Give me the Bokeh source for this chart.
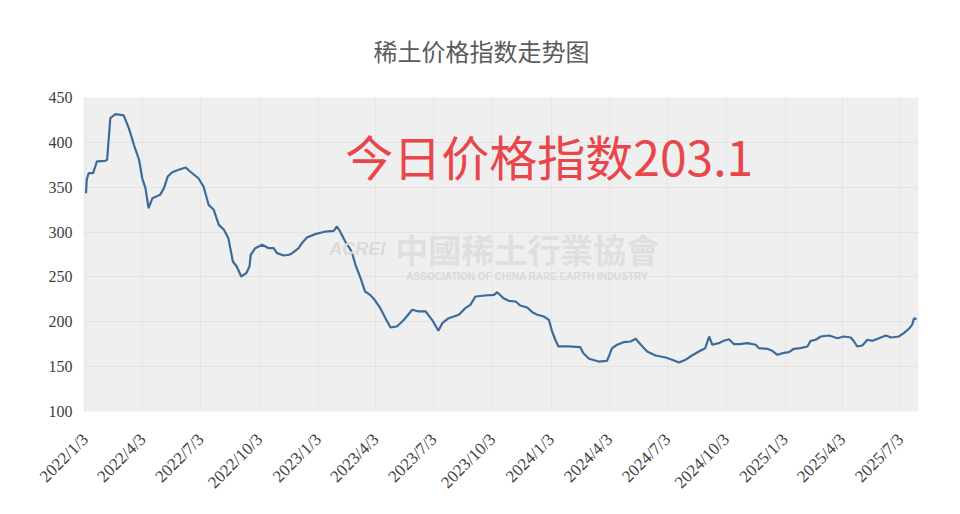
import pandas as pd
from bokeh.plotting import figure
from bokeh.models import Range1d, FixedTicker, Label
from bokeh.embed import file_html
from bokeh.resources import INLINE

# ---- data ----
dates = [
    "2022-01-04", "2022-01-05", "2022-01-08", "2022-01-15", "2022-01-21", "2022-02-03", "2022-02-06",
    "2022-02-11", "2022-02-19", "2022-03-04", "2022-03-12", "2022-03-20", "2022-03-28", "2022-04-02",
    "2022-04-07", "2022-04-12", "2022-04-18", "2022-04-30", "2022-05-06", "2022-05-12", "2022-05-19",
    "2022-05-29", "2022-06-09", "2022-06-16", "2022-06-29", "2022-07-07", "2022-07-15", "2022-07-23",
    "2022-07-31", "2022-08-08", "2022-08-15", "2022-08-22", "2022-08-28", "2022-09-04", "2022-09-12",
    "2022-09-17", "2022-09-19", "2022-09-26", "2022-10-07", "2022-10-17", "2022-10-25", "2022-10-30",
    "2022-11-10", "2022-11-18", "2022-11-23", "2022-12-03", "2022-12-08", "2022-12-16", "2022-12-29",
    "2023-01-14", "2023-01-27", "2023-02-01", "2023-02-06", "2023-02-14", "2023-02-24", "2023-03-02",
    "2023-03-10", "2023-03-17", "2023-03-25", "2023-04-01", "2023-04-10", "2023-04-18", "2023-04-26",
    "2023-05-06", "2023-05-17", "2023-05-30", "2023-06-09", "2023-06-20", "2023-06-30", "2023-07-10",
    "2023-07-16", "2023-07-26", "2023-08-11", "2023-08-21", "2023-08-29", "2023-09-06", "2023-09-21",
    "2023-10-05", "2023-10-10", "2023-10-20", "2023-10-28", "2023-11-08", "2023-11-15", "2023-11-26",
    "2023-12-04", "2023-12-12", "2023-12-22", "2023-12-30", "2024-01-04", "2024-01-09", "2024-01-14",
    "2024-01-30", "2024-02-17", "2024-02-22", "2024-03-02", "2024-03-17", "2024-03-30", "2024-04-04",
    "2024-04-07", "2024-04-15", "2024-04-25", "2024-05-06", "2024-05-14", "2024-05-22", "2024-06-01",
    "2024-06-14", "2024-06-30", "2024-07-10", "2024-07-21", "2024-07-31", "2024-08-10", "2024-08-23",
    "2024-08-31", "2024-09-06", "2024-09-11", "2024-09-21", "2024-09-29", "2024-10-07", "2024-10-15",
    "2024-10-23", "2024-11-05", "2024-11-18", "2024-11-23", "2024-12-06", "2024-12-14", "2024-12-22",
    "2024-12-30", "2025-01-09", "2025-01-17", "2025-01-27", "2025-02-07", "2025-02-12", "2025-02-20",
    "2025-02-28", "2025-03-13", "2025-03-26", "2025-04-05", "2025-04-16", "2025-04-21", "2025-04-26",
    "2025-05-04", "2025-05-12", "2025-05-20", "2025-05-30", "2025-06-10", "2025-06-18", "2025-06-30",
    "2025-07-08", "2025-07-16", "2025-07-21", "2025-07-24", "2025-07-28",
]
index_values = [
    343.3, 358.0, 365.6, 365.6, 378.7, 379.4, 380.5,
    427.0, 431.4, 430.0, 415.8, 397.3, 380.6, 360.0,
    349.0, 326.6, 337.8, 341.5, 349.0, 362.0, 366.7,
    369.4, 372.0, 367.5, 360.0, 350.8, 330.4, 324.8,
    308.0, 302.5, 293.0, 267.2, 261.6, 250.5, 254.2,
    261.6, 274.7, 282.0, 285.8, 282.0, 282.0, 276.5,
    273.9, 274.7, 276.5, 282.0, 287.6, 294.0, 297.7,
    300.6, 301.4, 306.2, 300.6, 289.5, 278.4, 263.5,
    248.6, 233.8, 230.0, 224.5, 215.2, 204.0, 193.6,
    194.8, 202.2, 213.4, 211.5, 211.5, 202.2, 190.0,
    198.5, 204.0, 207.8, 215.2, 218.9, 228.2, 229.3,
    230.0, 233.0, 226.3, 223.4, 222.6, 218.2, 215.9,
    210.7, 207.8, 205.9, 202.2, 189.2, 180.0, 172.5,
    172.5, 171.8, 165.0, 158.8, 155.7, 156.5, 165.0,
    170.6, 174.4, 177.3, 178.0, 181.0, 174.4, 166.9,
    162.4, 160.2, 157.6, 154.6, 157.6, 162.4, 167.7,
    170.6, 183.6, 174.4, 176.2, 178.8, 180.6, 175.0,
    175.0, 176.2, 174.4, 170.6, 169.9, 167.7, 163.2,
    165.0, 166.1, 169.9, 170.6, 172.5, 178.8, 180.0,
    183.6, 184.7, 181.7, 183.6, 182.5, 178.0, 172.5,
    173.6, 180.0, 178.8, 181.7, 184.7, 182.5, 183.6,
    187.3, 192.2, 196.6, 204.0, 203.1,
]
tick_dates = [
    "2022-01-03", "2022-04-03", "2022-07-03", "2022-10-03",
    "2023-01-03", "2023-04-03", "2023-07-03", "2023-10-03",
    "2024-01-03", "2024-04-03", "2024-07-03", "2024-10-03",
    "2025-01-03", "2025-04-03", "2025-07-03",
]
tick_labels = [
    "2022/1/3", "2022/4/3", "2022/7/3", "2022/10/3",
    "2023/1/3", "2023/4/3", "2023/7/3", "2023/10/3",
    "2024/1/3", "2024/4/3", "2024/7/3", "2024/10/3",
    "2025/1/3", "2025/4/3", "2025/7/3",
]
y_ticks = [100, 150, 200, 250, 300, 350, 400, 450]
title_text = "稀土价格指数走势图"
today_text = "今日价格指数203.1"

# ---- figure ----
x = pd.to_datetime(dates)
tick_ms = [float(pd.Timestamp(d).value // 10**6) for d in tick_dates]

p = figure(frame_width=835, frame_height=314, output_backend="svg", toolbar_location=None,
           x_axis_type="datetime",
           x_range=Range1d(pd.Timestamp("2021-12-31"), pd.Timestamp("2025-07-31")),
           y_range=Range1d(100, 450),
           min_border_left=83, min_border_right=26, min_border_top=96, min_border_bottom=88)

p.background_fill_color = "#efefef"
p.border_fill_color = "white"
p.outline_line_color = None

p.title.text = title_text
p.title.align = "left"
p.title.offset = 290
p.title.text_font = "Noto Sans CJK SC"
p.title.text_font_size = "24px"
p.title.text_font_style = "normal"
p.title.text_color = "#5a5a5a"
p.title.standoff = 60

# axes
p.yaxis.ticker = FixedTicker(ticks=y_ticks)
p.xaxis.ticker = FixedTicker(ticks=tick_ms)
p.xaxis.major_label_overrides = {t: lab for t, lab in zip(tick_ms, tick_labels)}
for ax in (p.xaxis[0], p.yaxis[0]):
    ax.axis_line_color = None
    ax.major_tick_line_color = None
    ax.minor_tick_line_color = None
    ax.major_tick_in = 0
    ax.major_tick_out = 0
    ax.major_label_text_font = "Liberation Serif"
    ax.major_label_text_color = "#404040"
p.yaxis.major_label_text_font_size = "16px"
p.yaxis.major_label_standoff = 11
p.xaxis.major_label_text_font_size = "17px"
p.xaxis.major_label_orientation = 0.785398
p.xaxis.major_label_standoff = 25

p.xgrid.grid_line_color = "#e6e6e6"
p.ygrid.grid_line_color = "#e3e3e3"

# watermark
p.add_layout(Label(x=pd.Timestamp("2023-03-05"), y=281, text="ACREI", text_font="Liberation Sans",
                   text_font_style="bold italic", text_font_size="18px", text_color="#dadada",
                   text_align="center", text_baseline="middle"))
p.add_layout(Label(x=pd.Timestamp("2023-11-26"), y=281, text="中國稀土行業協會", text_font="Noto Sans CJK TC",
                   text_font_style="bold", text_font_size="33px", text_color="#dfdfdf",
                   text_align="center", text_baseline="middle"))
p.add_layout(Label(x=pd.Timestamp("2023-11-26"), y=250.5, text="ASSOCIATION OF CHINA RARE EARTH INDUSTRY",
                   text_font="Liberation Sans", text_font_style="bold", text_font_size="10px",
                   text_color="#dadada", text_align="center", text_baseline="middle"))

# series
p.line(x, index_values, line_color="#3c6b9a", line_width=2.2)

# overlay note
p.add_layout(Label(x=pd.Timestamp("2023-02-14"), y=385.5, text=today_text, text_font="Noto Sans CJK SC",
                   text_font_size="48px", text_color="#e8464b", text_align="left", text_baseline="middle"))

open("out.html", "w").write(file_html(p, INLINE))
